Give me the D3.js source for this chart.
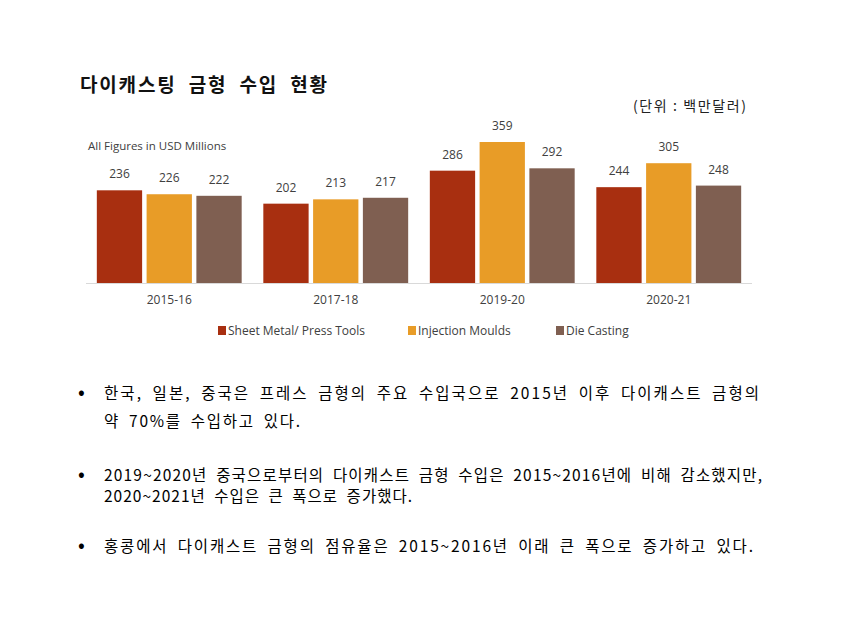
<!DOCTYPE html>
<html>
<head>
<meta charset="utf-8">
<script src="https://cdn.jsdelivr.net/npm/d3@7"></script>
<style>
  body { margin: 0; background: #fff; }
  svg { display: block; }
</style>
</head>
<body>
<div id="chart"></div>
<script>
const W = 842, H = 625;

const periods = ['2015-16', '2017-18', '2019-20', '2020-21'];
const seriesNames = ['Sheet Metal/ Press Tools', 'Injection Moulds', 'Die Casting'];
const sheetMetal = [236, 202, 286, 244];
const injection = [226, 213, 359, 305];
const dieCasting = [222, 217, 292, 248];
const colors = ['#a82f10', '#e89c27', '#7f5f51'];

const bullets = [
  ['한국, 일본, 중국은 프레스 금형의 주요 수입국으로 2015년 이후 다이캐스트 금형의', '약 70%를 수입하고 있다.'],
  ['2019~2020년 중국으로부터의 다이캐스트 금형 수입은 2015~2016년에 비해 감소했지만,', '2020~2021년 수입은 큰 폭으로 증가했다.'],
  ['홍콩에서 다이캐스트 금형의 점유율은 2015~2016년 이래 큰 폭으로 증가하고 있다.']
];

const values = [sheetMetal, injection, dieCasting];
const data = periods.map((p, i) => ({ period: p, vals: values.map(v => v[i]) }));

const svg = d3.select('#chart').append('svg')
  .attr('width', W).attr('height', H);

const kr = "'Noto Sans CJK KR', sans-serif";
const latin = "'Open Sans', 'Noto Sans', sans-serif";

// title
svg.append('text')
  .attr('x', 80).attr('y', 92)
  .attr('font-family', kr).attr('font-weight', 'bold')
  .attr('font-size', 19).attr('fill', '#111')
  .attr('word-spacing', 6)
  .attr('textLength', 247).attr('lengthAdjust', 'spacing')
  .text('다이캐스팅 금형 수입 현황');

svg.append('text')
  .attr('x', 633).attr('y', 111)
  .attr('font-family', kr).attr('font-size', 14).attr('fill', '#222')
  .attr('textLength', 113).attr('lengthAdjust', 'spacing')
  .text('(단위 : 백만달러)');

svg.append('text')
  .attr('x', 88).attr('y', 150)
  .attr('font-family', latin).attr('font-size', 11.5).attr('fill', '#404040')
  .text('All Figures in USD Millions');

// scales
const baseY = 283;
const y = d3.scaleLinear().domain([0, 359]).range([baseY, 142]);
const x0 = d3.scaleBand().domain(periods).range([86, 752]).paddingInner(0.13).paddingOuter(0.065);
const x1 = d3.scaleBand().domain(d3.range(3)).range([0, x0.bandwidth()]).paddingInner(0.09);

const groups = svg.selectAll('g.grp').data(data).enter().append('g')
  .attr('class', 'grp')
  .attr('transform', d => `translate(${x0(d.period)},0)`);

groups.selectAll('rect').data(d => d.vals).enter().append('rect')
  .attr('x', (d, i) => x1(i))
  .attr('y', d => y(d))
  .attr('width', x1.bandwidth())
  .attr('height', d => baseY - y(d))
  .attr('fill', (d, i) => colors[i]);

groups.selectAll('text.val').data(d => d.vals).enter().append('text')
  .attr('class', 'val')
  .attr('x', (d, i) => x1(i) + x1.bandwidth() / 2)
  .attr('y', d => y(d) - 12)
  .attr('text-anchor', 'middle')
  .attr('font-family', latin).attr('font-size', 12).attr('fill', '#404040')
  .text(d => d);

// x axis
const xAxis = svg.append('g')
  .attr('transform', `translate(0,${baseY})`)
  .call(d3.axisBottom(x0).tickSize(0).tickPadding(12));
xAxis.select('.domain').attr('stroke', '#d9d9d9').attr('d', 'M86,0.5H752');
xAxis.selectAll('text')
  .attr('font-family', latin).attr('font-size', 12).attr('fill', '#404040');

// legend
const legendX = [218, 408, 556];
const legend = svg.selectAll('g.leg').data(seriesNames).enter().append('g')
  .attr('class', 'leg')
  .attr('transform', (d, i) => `translate(${legendX[i]},326)`);
legend.append('rect').attr('width', 8).attr('height', 9).attr('fill', (d, i) => colors[i]);
legend.append('text')
  .attr('x', 10).attr('y', 9)
  .attr('font-family', latin).attr('font-size', 12).attr('fill', '#404040')
  .text(d => d);

// bullets
const lineY = [[399, 427], [481, 502], [552]];
const lineW = [[655, 196], [658, 308], [649]];
bullets.forEach((lines, bi) => {
  svg.append('text')
    .attr('x', 78).attr('y', lineY[bi][0])
    .attr('font-family', kr).attr('font-size', 20).attr('fill', '#000')
    .text('•');
  lines.forEach((ln, li) => {
    svg.append('text')
      .attr('x', 104).attr('y', lineY[bi][li])
      .attr('font-family', kr).attr('font-size', 15.5).attr('fill', '#000')
      .attr('word-spacing', 4)
      .attr('textLength', lineW[bi][li]).attr('lengthAdjust', 'spacing')
      .text(ln);
  });
});
</script>
</body>
</html>
